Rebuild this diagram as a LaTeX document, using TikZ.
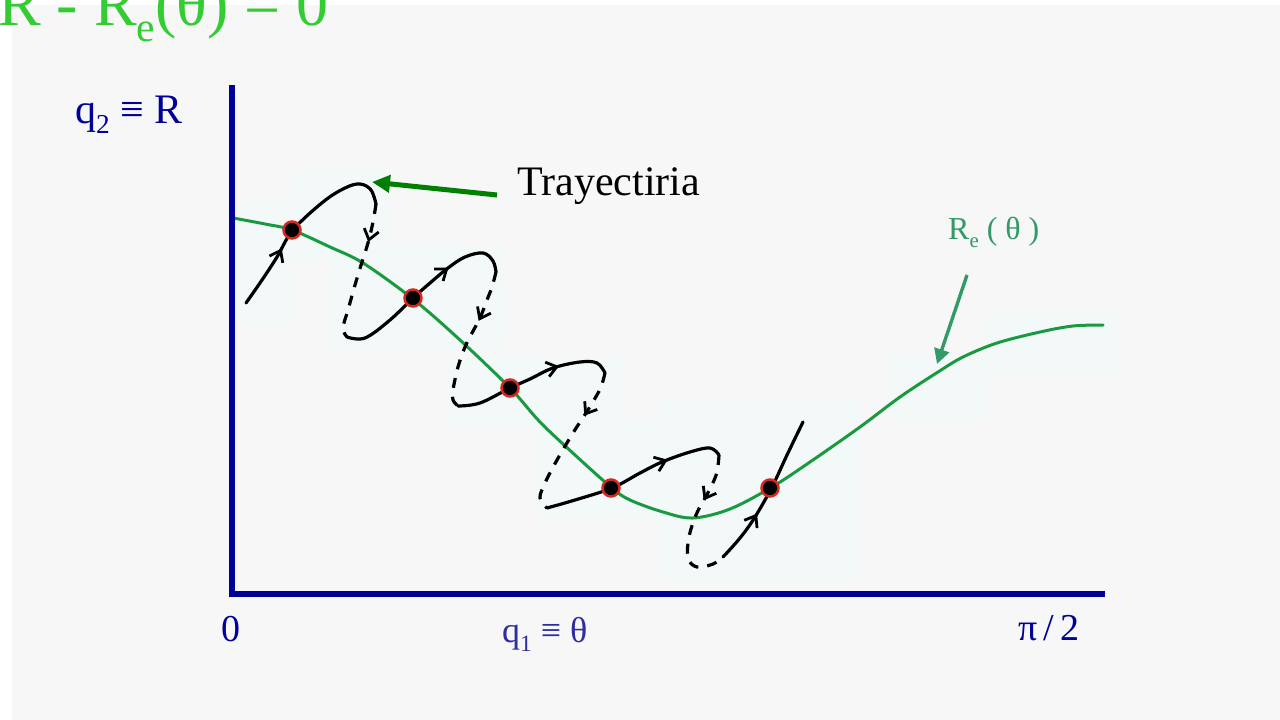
\documentclass[tikz,border=0pt]{standalone}
\usepackage{fontspec}
\setmainfont{Liberation Serif}
\usepackage{graphicx}
\usepackage{tikz}
\usetikzlibrary{arrows.meta,decorations.markings}
\definecolor{panelgray}{HTML}{F7F7F7}
\definecolor{scanwhite}{HTML}{F3F9F9}
\definecolor{axisblue}{HTML}{000099}
\definecolor{labelblue}{HTML}{2E2E9E}
\definecolor{titlegreen}{HTML}{33CC33}
\definecolor{curvegreen}{HTML}{1A9A40}
\definecolor{regreen}{HTML}{339966}
\definecolor{arrowgreen}{HTML}{008000}
\definecolor{dotred}{HTML}{D42A1E}
\newcommand{\subidx}[1]{\raisebox{-0.25em}{\scalebox{0.65}{#1}}}

\begin{document}
\begin{tikzpicture}[x=1pt, y=-1pt,
  axis/.style={draw=axisblue, line width=6pt, line join=miter},
  traj/.style={draw=black, line width=3.2pt, line cap=round, line join=round},
  trajback/.style={traj, line cap=butt, dash pattern=on 10pt off 9pt},
  dirmark/.style={postaction={decorate, decoration={markings,
    mark=at position #1 with {\arrow[black, line width=2.8pt]{Straight Barb[length=10pt,width=15pt]}}}}},
  eqcurve/.style={draw=curvegreen, line width=3pt, line cap=round},
  crossdot/.style={circle, fill=black, draw=dotred, line width=2.5pt, minimum size=17pt, inner sep=0pt},
  lbl/.style={anchor=base west, inner sep=0pt},
]
\useasboundingbox (0,0) rectangle (1280,720);
\fill[panelgray] (12,5) rectangle (1280,720);

% scanned sketch patches
\fill[scanwhite] (233,200) rectangle (292,323);
\fill[scanwhite] (292,172) rectangle (390,262);
\fill[scanwhite] (330,245) rectangle (505,350);
\fill[scanwhite] (445,357) rectangle (625,425);
\fill[scanwhite] (537,420) rectangle (770,520);
\fill[scanwhite] (660,400) rectangle (860,580);
\fill[scanwhite] (890,358) rectangle (987,420);
\fill[scanwhite] (987,313) rectangle (1118,373);

% R = Re(theta)
\draw[eqcurve] plot[smooth, tension=0.55] coordinates {
  (233,218) (265,224) (292,230) (330,247) (363,263) (413,299) (460,340)
  (510,388) (540,422) (575,455) (612,488) (630,500) (663,512) (693,518)
  (730,509) (772,487) (810,462) (860,427) (900,397) (938,372) (963,357)
  (997,343) (1040,332) (1073,326) (1103,325)};

% trajectory
\draw[traj, dirmark=0.33] plot[smooth, tension=0.6] coordinates {
  (246,303) (262,280) (277,257) (293,230) (323,202) (345,188) (360,184) (371,190) (376,204)};
\draw[trajback, dirmark=0.28] plot[smooth, tension=0.6] coordinates {
  (376,204) (373,222) (368,243) (362,262) (355,285) (348,310) (343,328) (347,337)};
\draw[traj, dirmark=0.67] plot[smooth, tension=0.6] coordinates {
  (347,337) (365,338) (390,320) (413,298) (430,283) (448,268) (465,257) (483,253) (493,261) (496,272)};
\draw[trajback, dirmark=0.36] plot[smooth, tension=0.6] coordinates {
  (496,272) (492,287) (487,300) (480,318) (472,333) (465,347) (458,367) (453,390) (453,400) (458,406)};
\draw[traj, dirmark=0.68] plot[smooth, tension=0.6] coordinates {
  (458,406) (480,403) (510,388) (530,379) (553,368) (580,362) (597,363) (605,373)};
\draw[trajback, dirmark=0.31] plot[smooth, tension=0.6] coordinates {
  (605,373) (601,387) (594,400) (586,413) (573,433) (557,460) (545,483) (540,498) (547,508)};
\draw[traj, dirmark=0.70] plot[smooth, tension=0.6] coordinates {
  (547,508) (575,500) (612,488) (640,473) (662,462) (690,452) (710,448) (719,455)};
\draw[trajback, dirmark=0.32] plot[smooth, tension=0.6] coordinates {
  (719,455) (717,472) (711,487) (705,498) (696,515) (689,537) (688,558) (697,567) (713,564) (723,557)};
\draw[traj, dirmark=0.35] plot[smooth, tension=0.6] coordinates {
  (723,557) (740,538) (755,517) (772,487) (787,455) (803,422)};

\node[crossdot] (x1) at (292,230) {};
\node[crossdot] (x2) at (413,298) {};
\node[crossdot] (x3) at (510,388) {};
\node[crossdot] (x4) at (611,488) {};
\node[crossdot] (x5) at (770,488) {};

% axes
\draw[axis] (232,85) -- (232,594) -- (1105,594);

\node[lbl, text=titlegreen, font=\fontsize{64}{76}\selectfont] (title) at (-2,25) {R - R\subidx{e}(θ) = 0};
\node[lbl, text=axisblue, font=\fontsize{42}{50}\selectfont] (qtwo) at (75,123) {q\subidx{2} ≡ R};
\node[lbl, text=axisblue, font=\fontsize{38}{46}\selectfont] (zero) at (221,641) {0};
\node[lbl, text=labelblue, font=\fontsize{36}{44}\selectfont] (qone) at (502,642) {q\subidx{1} ≡ θ};
\node[lbl, text=axisblue, font=\fontsize{38}{46}\selectfont] (halfpi) at (1018,640) {π\,/\,2};
\node[lbl, text=black, font=\fontsize{42}{50}\selectfont] (tray) at (517,195) {Trayectiria};
\node[lbl, text=regreen, font=\fontsize{32}{40}\selectfont] (relbl) at (948,239) {R\subidx{e} ( θ )};

\coordinate (traytip) at (372,182);
\coordinate (restart) at (967,275);
\coordinate (retip) at (937,364);
\draw[arrowgreen, line width=5pt, -{Triangle[length=18pt,width=17pt]}] ([xshift=-20pt]tray.base west) -- (traytip);
\draw[regreen, line width=3.4pt, -{Triangle[length=15pt,width=15pt]}] (restart) -- (retip);
\end{tikzpicture}
\end{document}
